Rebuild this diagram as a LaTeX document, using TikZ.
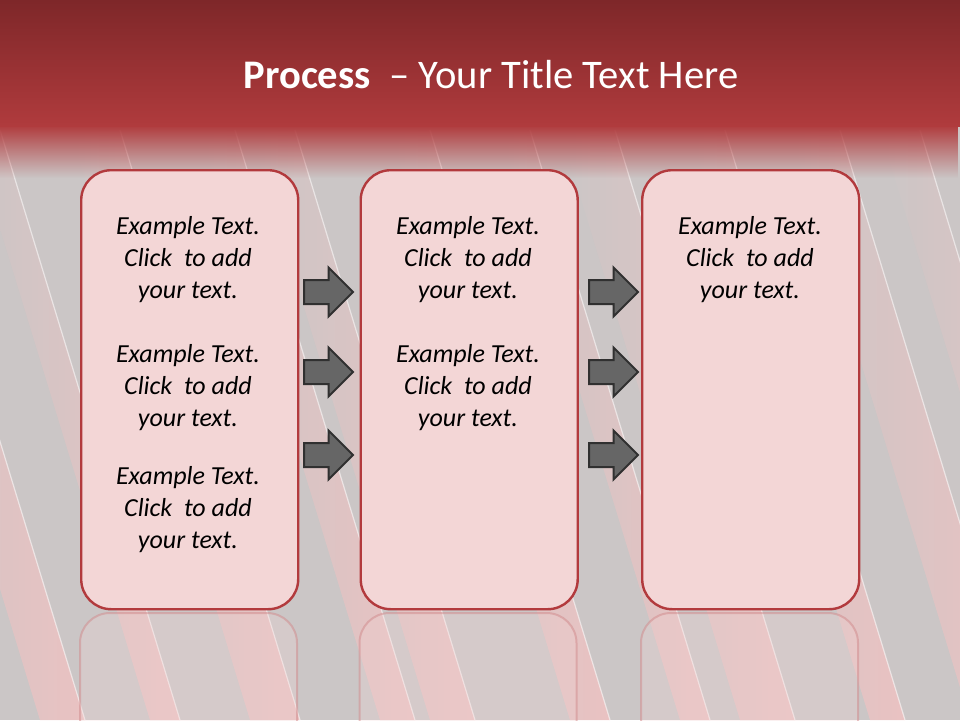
\documentclass[tikz,border=0pt]{standalone}
\usepackage{fontspec}
\setmainfont{Carlito}
\usetikzlibrary{shapes.arrows,fadings}
\definecolor{bggray}{HTML}{CBC6C6}
\definecolor{stripepink}{HTML}{F2C2C2}
\definecolor{bannertop}{HTML}{7E2729}
\definecolor{bannerbot}{HTML}{B03B3D}
\definecolor{boxfill}{HTML}{F3D6D6}
\definecolor{boxline}{HTML}{B23A3D}
\definecolor{arrowfill}{HTML}{666666}
\definecolor{arrowline}{HTML}{303030}
\tikzset{
  procbox/.style={draw=boxline, line width=2.4pt, fill=boxfill, rounded corners=30pt,
    minimum width=217pt, minimum height=439pt, inner sep=0pt},
  reflbox/.style={draw=boxline!60!white, draw opacity=0.5, line width=2pt, fill=boxfill,
    fill opacity=0.25, rounded corners=30pt, minimum width=217pt, minimum height=200pt, inner sep=0pt},
  flowarrow/.style={single arrow, draw=arrowline, line width=2pt, fill=arrowfill,
    minimum height=49pt, single arrow head extend=12.5pt, single arrow head indent=0pt,
    inner sep=0pt, text height=11pt, text depth=11pt, text width=0pt, anchor=tail},
  bodytext/.style={font=\itshape\fontsize{26}{32}\selectfont, align=center, text=black},
  stripeline/.style={draw=white, draw opacity=0.55, line width=1.2pt},
}
\newcommand{\stripeband}[2]{%
  \shade[left color=bggray, right color=stripepink, opacity=0.8]
    (#1,130) -- (#1+#2,130) -- (#1+#2+180,720) -- (#1+180,720) -- cycle;
  \draw[stripeline] (#1+#2,130) -- (#1+#2+180,720);
}
\newcommand{\exampletext}[3]{%
  \node[bodytext] (#1) at (#2,#3) {Example Text.\\Click~ to add\\your text.};
}
\begin{document}
\begin{tikzpicture}[x=1pt,y=-1pt]
\useasboundingbox (0,0) rectangle (960,720);
% background
\fill[bggray] (0,0) rectangle (960,720);
% diagonal stripes
\stripeband{-140}{45}
\stripeband{-30}{30}
\stripeband{70}{50}
\stripeband{200}{35}
\stripeband{250}{45}
\stripeband{390}{40}
\stripeband{500}{30}
\stripeband{560}{55}
\stripeband{690}{35}
\stripeband{790}{50}
\stripeband{880}{40}
% banner
\shade[top color=bannertop, bottom color=bannerbot] (0,0) rectangle (960,126);
\fill[bannerbot, path fading=south] (0,125) rectangle (960,178);
% title
\node[text=white, font=\fontsize{40.6}{44}\selectfont, anchor=base] (title) at (491,88)
  {\textbf{Process}~ – Your Title Text Here};
% reflections
\begin{scope}
\clip (0,612) rectangle (960,720);
\node[reflbox, anchor=north] (r1) at (188.5,612) {};
\node[reflbox, anchor=north] (r2) at (468,612) {};
\node[reflbox, anchor=north] (r3) at (749.5,612) {};
\end{scope}
% boxes
\node[procbox, anchor=north west] (b1) at (80,169) {};
\node[procbox, anchor=north west] (b2) at (359.5,169) {};
\node[procbox, anchor=north west] (b3) at (641,169) {};
% texts
\exampletext{t11}{188}{260}
\exampletext{t12}{188}{388}
\exampletext{t13}{188}{510}
\exampletext{t21}{468}{260}
\exampletext{t22}{468}{388}
\exampletext{t31}{750}{260}
% arrows
\node[flowarrow] (a11) at (303,292) {};
\node[flowarrow] (a12) at (303,372) {};
\node[flowarrow] (a13) at (303,455) {};
\node[flowarrow] (a21) at (588,292) {};
\node[flowarrow] (a22) at (588,372) {};
\node[flowarrow] (a23) at (588,455) {};
\end{tikzpicture}
\end{document}
